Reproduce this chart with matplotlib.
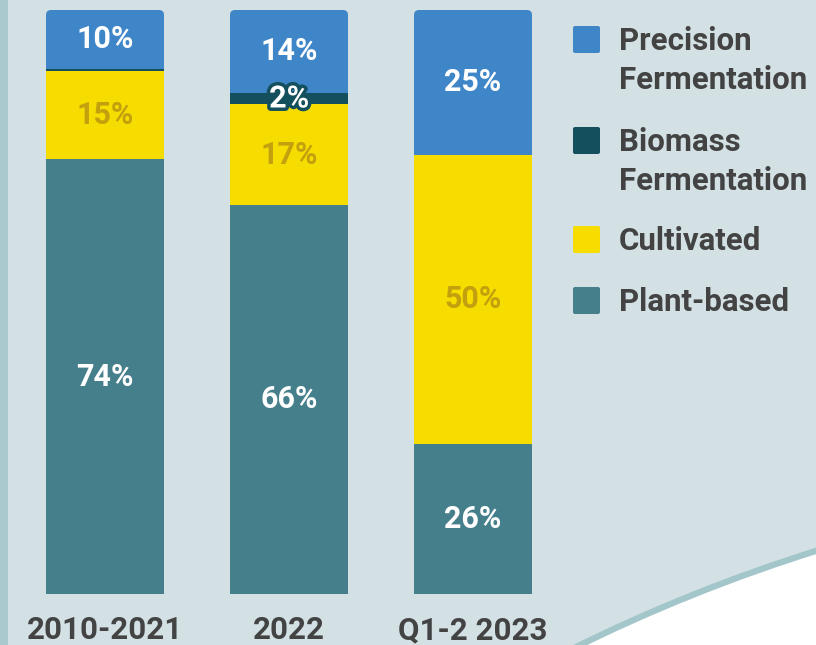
import numpy as np
import matplotlib
matplotlib.use("Agg")
import matplotlib.pyplot as plt
from matplotlib.patches import Rectangle, FancyBboxPatch, PathPatch
from matplotlib.path import Path
import matplotlib.patheffects as pe

plt.rcParams['font.family'] = ['Roboto', 'DejaVu Sans']
plt.rcParams['font.weight'] = 'bold'

# share of investment by segment, per period (%)
periods = ['2010-2021', '2022', 'Q1-2 2023']
precision = [10, 14, 25]
biomass = [0.4, 2, 0]
cultivated = [15, 17, 50]
plant_based = [74, 66, 26]

segments = ['Precision\nFermentation', 'Biomass\nFermentation', 'Cultivated', 'Plant-based']
colors = ['#3f86c8', '#134f5c', '#f7dc00', '#467f8c']
label_colors = ['white', 'white', '#c2a00e', 'white']

bg = '#d3e1e5'
text_dark = '#434343'

W, H = 816, 645
fig = plt.figure(figsize=(W / 100, H / 100), dpi=100)
fig.patch.set_facecolor(bg)

# backdrop: left strip and the white swoosh in the lower right
deco = fig.add_axes([0, 0, 1, 1], zorder=0)
deco.set_xlim(0, W)
deco.set_ylim(H, 0)
deco.axis('off')
deco.add_patch(Rectangle((0, 0), 8, H, color='#a9c9ce', lw=0))
verts = [(570, 650), (690, 590), (822, 549), (822, 650), (570, 650)]
codes = [Path.MOVETO, Path.CURVE3, Path.CURVE3, Path.LINETO, Path.CLOSEPOLY]
deco.add_patch(PathPatch(Path(verts, codes), facecolor='white', edgecolor='none'))
deco.add_patch(PathPatch(Path(verts[:3], codes[:3]), facecolor='none',
                         edgecolor='#a2c6ca', lw=4.5))

# stacked bars, normalised to 100% per period
ax = fig.add_axes([0, 51 / H, 560 / W, 584 / H], zorder=1)
ax.patch.set_alpha(0)
ax.set_xlim(-105 / 184, (560 - 105) / 184)
ax.set_ylim(0, 100)

data = np.array([precision, biomass, cultivated, plant_based], dtype=float)
shares = data / data.sum(axis=0) * 100
x = np.arange(len(periods))
width = 118 / 184

bottom = np.zeros(len(periods))
for k in range(len(segments) - 1, -1, -1):
    bars = ax.bar(x, shares[k], width, bottom=bottom, color=colors[k], lw=0)
    for i, b in enumerate(bars):
        # rounded top corners on each column
        clip = FancyBboxPatch((x[i] - width / 2, -20), width, 120,
                              boxstyle='round,pad=0,rounding_size=0.028',
                              mutation_aspect=30, transform=ax.transData)
        b.set_clip_path(clip)
        if data[k, i] >= 1:
            t = ax.text(x[i], bottom[i] + shares[k, i] / 2, f'{data[k, i]:.0f}%',
                        ha='center', va='center', fontsize=22, fontweight='bold',
                        color=label_colors[k], zorder=5)
            if k == 1:
                t.set_path_effects([pe.withStroke(linewidth=5, foreground=colors[1])])
    bottom += shares[k]

ax.set_xticks(x, periods)
ax.tick_params(axis='x', length=0, pad=15, labelsize=22.5, labelcolor=text_dark)
ax.set_yticks([])
for s in ax.spines.values():
    s.set_visible(False)

# legend drawn by hand so the swatch sits beside the first line
swatch_top = [26, 127, 226, 287]
for k, name in enumerate(segments):
    deco.add_patch(FancyBboxPatch((573, swatch_top[k]), 27, 27,
                                  boxstyle='round,pad=0,rounding_size=2',
                                  facecolor=colors[k], edgecolor='none'))
    deco.text(619, swatch_top[k], name, ha='left', va='top', fontsize=22.5,
              fontweight='bold', color=text_dark, linespacing=1.38)

fig.savefig('out.png', dpi=100, facecolor=bg)
